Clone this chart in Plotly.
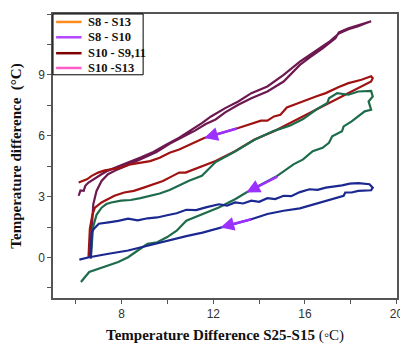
import plotly.graph_objects as go

# ---------------- data ----------------
purple_x = [6.61, 6.65, 6.69, 6.76, 6.90, 7.12, 7.40, 7.82, 8.39, 8.96, 9.52, 10.09, 10.65, 11.20, 11.67,
            12.10, 12.52, 13.09, 13.66, 14.36, 15.07, 15.78, 16.20, 16.77, 17.33, 17.48, 17.90, 18.33, 18.89,
            18.60, 18.33, 17.90, 17.50, 17.33, 17.05, 16.63, 16.20, 15.78, 15.07, 14.36, 13.66, 13.09, 12.52,
            11.90, 11.50, 11.08, 10.51, 9.94, 9.38, 8.82, 8.25, 7.82, 7.40, 7.12, 6.90, 6.69, 6.55, 6.41,
            6.34, 6.20, 6.12]
purple_y = [0.01, 0.83, 1.81, 2.63, 3.28, 3.77, 4.10, 4.34, 4.62, 4.93, 5.20, 5.60, 5.92, 6.25, 6.58,
            6.80, 7.15, 7.53, 7.85, 8.18, 8.67, 9.49, 9.85, 10.30, 10.80, 11.10, 11.30, 11.45, 11.64,
            11.52, 11.40, 11.25, 11.05, 10.87, 10.62, 10.30, 9.98, 9.65, 9.00, 8.43, 8.10, 7.69, 7.36,
            6.95, 6.62, 6.30, 5.90, 5.55, 5.20, 4.92, 4.65, 4.46, 4.28, 4.10, 3.93, 3.77, 3.69, 3.53,
            3.28, 3.30, 3.04]

red_x = [6.55, 6.61, 6.72, 6.83, 7.12, 7.40, 7.68, 8.11, 8.53, 8.96, 9.38, 9.80, 10.23, 10.51, 10.79, 11.36,
         12.10, 12.95, 13.80, 14.65, 15.50, 16.34, 16.91, 17.62, 17.90, 18.47, 18.89, 18.96,
         18.89, 18.47, 17.90, 17.48, 16.91, 16.48, 16.06, 15.64, 15.21, 15.07, 14.93, 14.65, 14.36,
         14.08, 13.80, 13.51, 13.09, 11.60, 11.36, 10.94, 10.51, 10.09, 9.66, 9.24, 8.82, 8.39, 7.97,
         7.54, 7.26, 6.97, 6.69, 6.48, 6.27, 6.12]
red_y = [0.01, 1.42, 2.10, 2.45, 2.71, 2.87, 3.04, 3.20, 3.28, 3.44, 3.61, 3.77, 4.02, 4.18, 4.18, 4.42,
         4.75, 5.24, 5.81, 6.22, 6.71, 7.20, 7.53, 7.93, 8.10, 8.42, 8.67, 8.84,
         8.93, 8.76, 8.59, 8.40, 8.10, 7.93, 7.77, 7.58, 7.39, 7.18, 7.03, 6.95, 6.74,
         6.74, 6.63, 6.55, 6.38, 5.89, 5.76, 5.57, 5.32, 5.16, 4.91, 4.75, 4.67, 4.59, 4.42,
         4.34, 4.29, 4.18, 4.02, 3.85, 3.77, 3.69]

green_x = [6.65, 6.70, 6.75, 6.90, 7.12, 7.33, 7.54, 7.97, 8.39, 8.82, 9.24, 9.66, 10.09, 10.51, 10.94, 11.50,
           12.10, 12.95, 13.80, 14.65, 15.36, 15.92, 16.48, 16.98, 17.05, 17.41, 17.90, 18.33, 18.89,
           18.96, 18.78, 18.89, 18.61, 18.04, 17.69, 17.62, 17.19, 17.05, 16.77, 16.34, 15.92, 15.50,
           15.21, 14.79, 13.44, 12.95, 12.24, 11.53, 10.82, 10.40, 9.97, 9.55, 9.13, 8.70, 8.28, 7.85,
           7.43, 7.00, 6.58, 6.22]
green_y = [-0.05, 0.90, 1.50, 2.10, 2.45, 2.63, 2.71, 2.80, 2.83, 2.92, 3.04, 3.15, 3.32, 3.55, 3.78, 4.02,
           4.70, 5.22, 5.80, 6.24, 6.50, 6.82, 7.28, 7.61, 7.85, 8.10, 8.02, 8.18, 8.21,
           7.93, 7.69, 7.28, 7.20, 6.71, 6.46, 6.22, 5.97, 5.65, 5.40, 5.24, 4.83, 4.59,
           4.34, 4.02, 3.20, 2.87, 2.46, 2.14, 1.81, 1.32, 0.99, 0.75, 0.67, 0.34, 0.01, -0.23,
           -0.39, -0.55, -0.72, -1.21]

navy_x = [6.65, 6.69, 6.79, 7.00, 7.43, 7.85, 8.28, 8.70, 9.13, 9.55, 9.98, 10.40, 10.82, 11.25, 11.67,
          12.24, 12.60, 12.95, 13.30, 13.66, 14.00, 14.36, 14.70, 15.07, 15.40, 15.78, 16.20, 16.55, 16.91,
          17.30, 17.62, 17.96, 18.33, 18.82, 18.96, 18.89, 18.33, 18.04, 17.76, 17.69, 17.33, 16.91,
          16.48, 15.78, 15.07, 14.36, 13.66, 12.95, 12.24, 11.53, 10.82, 9.98, 9.13, 8.28, 7.43, 7.00,
          6.58, 6.15]
navy_y = [-0.05, 1.24, 1.42, 1.66, 1.73, 1.80, 1.91, 1.83, 1.93, 1.97, 2.08, 2.18, 2.35, 2.33, 2.47,
          2.62, 2.55, 2.71, 2.66, 2.80, 2.74, 2.92, 2.88, 3.04, 3.02, 3.22, 3.36, 3.33, 3.44,
          3.48, 3.55, 3.64, 3.66, 3.61, 3.44, 3.31, 3.28, 3.20, 3.20, 3.04, 2.92, 2.79,
          2.64, 2.42, 2.30, 2.14, 1.88, 1.65, 1.45, 1.22, 1.05, 0.82, 0.59, 0.34, 0.18, 0.10,
          0.01, -0.11]

# direction arrows: (tail x, tail y, head x, head y)
arrow_tail_x = [13.09, 14.86, 13.72]
arrow_tail_y = [6.38, 4.02, 1.90]
arrow_head_x = [11.60, 13.44, 12.31]
arrow_head_y = [5.89, 3.20, 1.48]

legend_names = ["S8 - S13", "S8 - S10", "S10 - S9,11", "S10 -S13"]
legend_colors = ["#ff8c1a", "#b347ff", "#7f0000", "#ff5cc8"]

x_ticks = [8, 12, 16, 20]
y_ticks = [0, 3, 6, 9, 12]

# ---------------- figure ----------------
fig = go.Figure()

curves = [
    (purple_x, purple_y, "#6e1850"),
    (red_x, red_y, "#a01212"),
    (green_x, green_y, "#1d6b4b"),
    (navy_x, navy_y, "#1a2890"),
]
for xs, ys, col in curves:
    fig.add_trace(go.Scatter(x=xs, y=ys, mode="lines", showlegend=False,
                             line=dict(color=col, width=2.2), hoverinfo="skip"))

for tx, ty, hx, hy in zip(arrow_tail_x, arrow_tail_y, arrow_head_x, arrow_head_y):
    fig.add_annotation(x=hx, y=hy, ax=tx, ay=ty, xref="x", yref="y", axref="x", ayref="y",
                       showarrow=True, arrowhead=2, arrowsize=1.1, arrowwidth=2.5,
                       arrowcolor="#9b30ff", text="")

# manual legend (compact, like the reference)
leg_box = dict(x0=0, x1=0.262, y0=0.786, y1=1.0)
fig.add_shape(type="rect", xref="paper", yref="paper", line=dict(color="#000000", width=1),
              fillcolor="white", layer="above", **leg_box)
row_y = [0.972, 0.918, 0.862, 0.810]
for name, col, ry in zip(legend_names, legend_colors, row_y):
    fig.add_shape(type="line", xref="paper", yref="paper", x0=0.009, x1=0.083, y0=ry, y1=ry,
                  line=dict(color=col, width=2.5), layer="above")
    fig.add_annotation(x=0.097, y=ry, xref="paper", yref="paper", xanchor="left", yanchor="middle",
                       showarrow=False, text="<b>%s</b>" % name,
                       font=dict(family="Liberation Serif, Times New Roman", size=12.5, color="#111111"))

axis_common = dict(showline=True, linecolor="#555555", linewidth=1.5, mirror=True,
                   ticks="outside", ticklen=4, tickcolor="#555555", tickwidth=1,
                   showgrid=False, zeroline=False,
                   tickfont=dict(family="Liberation Sans, Arial", size=12, color="#333333"))

fig.update_xaxes(range=[5, 20.02], tickvals=x_ticks, ticklabeloverflow="allow",
                 minor=dict(ticks="outside", dtick=2, tick0=0, ticklen=4, tickcolor="#555555"),
                 title=dict(text="<b>Temperature Difference S25-S15</b> (◦C)",
                            font=dict(family="Liberation Serif, Times New Roman", size=15, color="#111111"),
                            standoff=9),
                 **axis_common)
fig.update_yaxes(range=[-2, 12], tickvals=y_ticks,
                 minor=dict(ticks="outside", dtick=1.5, tick0=0, ticklen=4, tickcolor="#555555"),
                 title=dict(text="<b>Temperature difference  (°C)</b>",
                            font=dict(family="Liberation Serif, Times New Roman", size=15, color="#111111"),
                            standoff=14),
                 **axis_common)

# the page body keeps its default 8px margin, so the figure is sized/offset for that
fig.update_layout(
    width=400, height=340,
    margin=dict(l=45, r=4, t=4, b=50),
    plot_bgcolor="white", paper_bgcolor="white",
    showlegend=False,
)

fig.write_html("out.html")
